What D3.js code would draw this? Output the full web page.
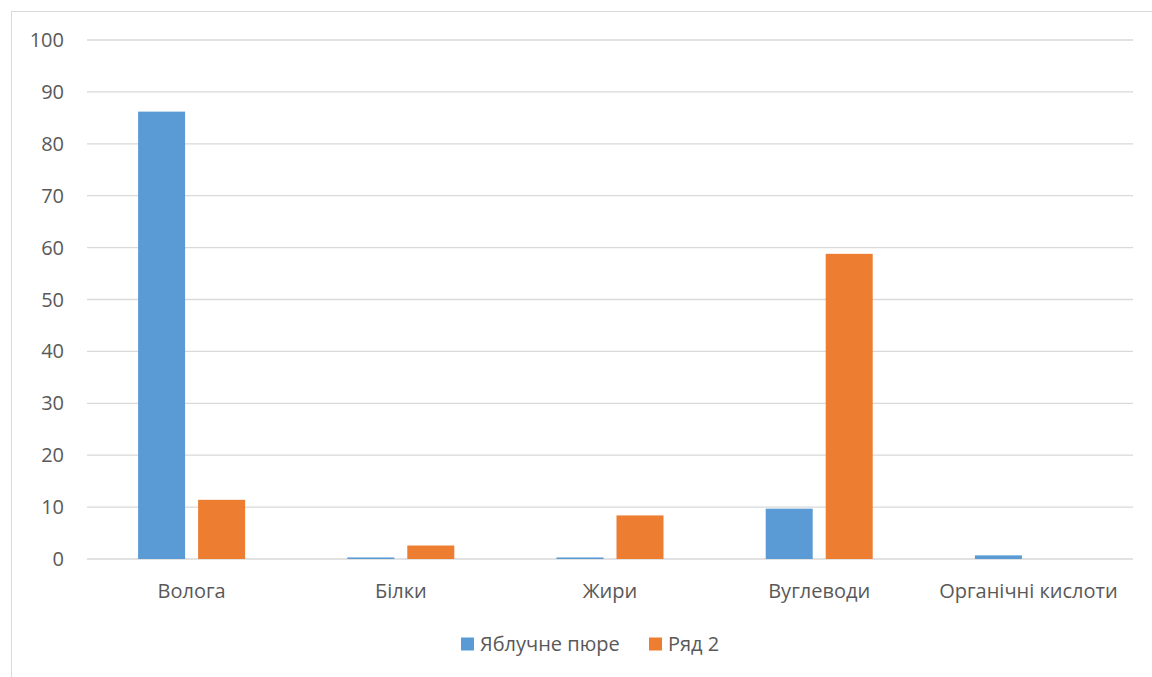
<!DOCTYPE html>
<html>
<head>
<meta charset="utf-8">
<script src="https://cdn.jsdelivr.net/npm/d3@7"></script>
<style>
  body { margin: 0; background: #fff; }
  svg { display: block; font-family: "Open Sans", sans-serif; }
</style>
</head>
<body>
<div id="chart"></div>
<script>
const categories = ["Волога", "Білки", "Жири", "Вуглеводи", "Органічні кислоти"];
const seriesNames = ["Яблучне пюре", "Ряд 2"];
const applePuree = [86.2, 0.3, 0.3, 9.7, 0.7];
const row2 = [11.4, 2.6, 8.4, 58.8, 0];
const yTicks = [0, 10, 20, 30, 40, 50, 60, 70, 80, 90, 100];
const colors = ["#5b9bd5", "#ed7d31"];

const W = 1152, H = 677;
const margin = { top: 40, right: 19, bottom: 118, left: 87 },
      width = W - margin.left - margin.right,
      height = 559 - margin.top;

const svg = d3.select("#chart").append("svg")
    .attr("width", W)
    .attr("height", H);

// chart frame
svg.append("rect")
    .attr("x", 11.5).attr("y", 11.5)
    .attr("width", 1200).attr("height", 700)
    .attr("fill", "none")
    .attr("stroke", "#d9d9d9");

const g = svg.append("g")
    .attr("transform", "translate(" + margin.left + "," + margin.top + ")");

const x = d3.scaleBand()
    .domain(categories)
    .range([0, width]);

const y = d3.scaleLinear()
    .domain([0, 100])
    .range([height, 0]);

const barW = 47, gap = 13;

// gridlines
g.append("g")
    .selectAll("line")
    .data(yTicks)
    .enter().append("line")
      .attr("x1", 0).attr("x2", width)
      .attr("y1", d => y(d)).attr("y2", d => y(d))
      .attr("stroke", "#d9d9d9")
      .attr("stroke-width", 1.3);

// y tick labels
g.append("g")
    .selectAll("text")
    .data(yTicks)
    .enter().append("text")
      .attr("x", -23)
      .attr("y", d => y(d))
      .attr("dy", "0.35em")
      .attr("text-anchor", "end")
      .attr("fill", "#595959")
      .style("font-size", "20px")
      .text(d => d);

const table = categories.map((c, i) => ({ cat: c, vals: [applePuree[i], row2[i]] }));

const groups = g.selectAll(".grp")
    .data(table)
    .enter().append("g")
      .attr("class", "grp")
      .attr("transform", d => "translate(" + x(d.cat) + ",0)");

groups.selectAll("rect")
    .data(d => d.vals.map((v, j) => ({ v: v, j: j })))
    .enter().append("rect")
      .attr("x", d => d.j === 0 ? x.bandwidth() / 2 - gap / 2 - barW : x.bandwidth() / 2 + gap / 2)
      .attr("width", barW)
      .attr("y", d => y(d.v))
      .attr("height", d => height - y(d.v))
      .attr("fill", d => colors[d.j]);

// x labels
g.append("g")
    .selectAll("text")
    .data(categories)
    .enter().append("text")
      .attr("x", d => x(d) + x.bandwidth() / 2)
      .attr("y", height + 39)
      .attr("text-anchor", "middle")
      .attr("fill", "#595959")
      .style("font-size", "20px")
      .text(d => d);

// legend
const legend = svg.append("g").attr("transform", "translate(461,644)");
const legendX = [0, 188];
seriesNames.forEach((n, i) => {
  legend.append("rect")
      .attr("x", legendX[i]).attr("y", -6.5)
      .attr("width", 13).attr("height", 13)
      .attr("fill", colors[i]);
  legend.append("text")
      .attr("x", legendX[i] + 19)
      .attr("y", 0)
      .attr("dy", "0.35em")
      .attr("fill", "#595959")
      .style("font-size", "20px")
      .text(n);
});
</script>
</body>
</html>
